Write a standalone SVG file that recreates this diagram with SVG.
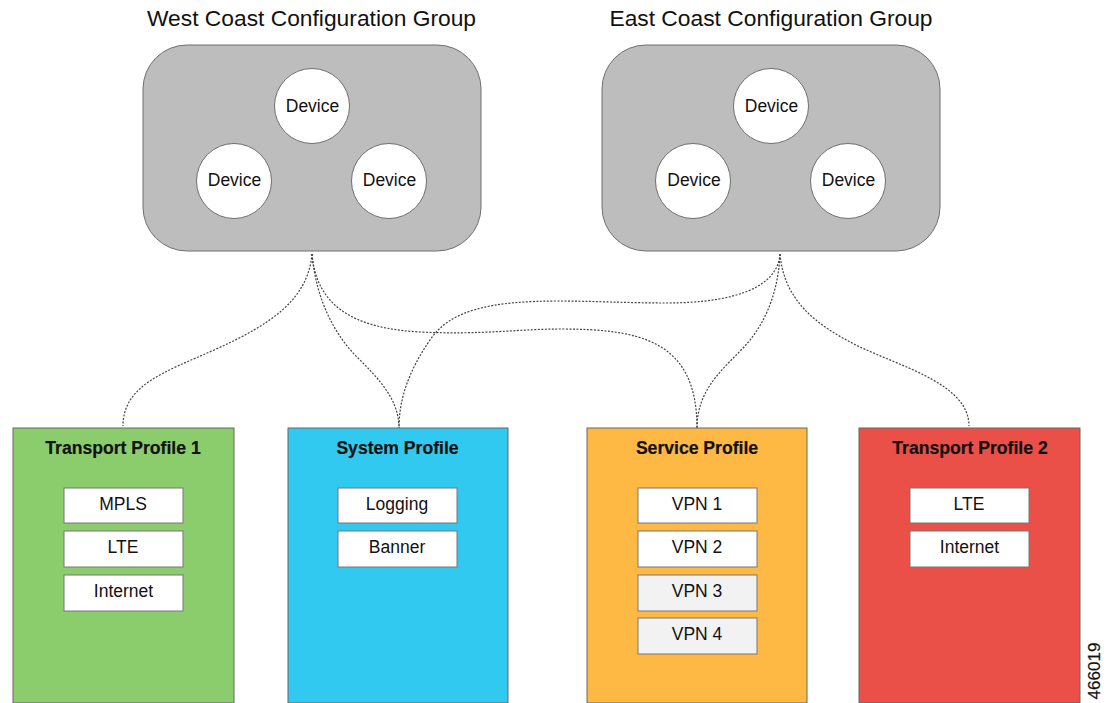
<svg xmlns="http://www.w3.org/2000/svg" width="1111" height="703" viewBox="0 0 1111 703">
<style>
text{font-family:"Liberation Sans",Arial,sans-serif;fill:#111;text-anchor:middle}
.t{font-size:22.8px}
.d{font-size:17.5px}
.h{font-size:17.6px;font-weight:bold;stroke:#111;stroke-width:.2px}
.g{fill:#bdbdbd;stroke:#6f6f6f;stroke-width:1}
.c{fill:#fff;stroke:#6f6f6f;stroke-width:1}
.p{stroke:#666;stroke-width:1}
.i{fill:#fff;stroke:#777;stroke-width:1}
.s{fill:#f2f2f2;stroke:#777;stroke-width:1}
.l{fill:none;stroke:#444;stroke-width:1.2;stroke-dasharray:2 1.5}
</style>
<rect width="1111" height="703" fill="#fff"/>
<g id="connectors">
<path class="l" d="M312 254C308 300 270 325 214 350C165 372 123 385 123 426"/>
<path class="l" d="M312 254C316 300 335 335 357 357C380 380 399 400 399 428"/>
<path class="l" d="M312 254C316 300 345 328 420 332C480 335 520 329 560 329C640 329 697 340 697 428"/>
<path class="l" d="M780 254C778 285 740 303 666 303C630 303 590 301 560 301C490 301 450 310 430 340C408 372 399 400 399 428"/>
<path class="l" d="M780 254C778 300 760 330 744 347C722 370 697 390 697 428"/>
<path class="l" d="M780 254C784 300 815 325 860 347C905 368 969 385 969 426"/>
</g>
<g id="west-group">
<text class="t" x="311.500" y="26">West Coast Configuration Group</text>
<rect class="g" x="143" y="45" width="338" height="206" rx="44"/>
</g>
<g id="west-device-1"><circle class="c" cx="312" cy="106" r="37.500"/><text class="d" x="312.500" y="111.500">Device</text></g>
<g id="west-device-2"><circle class="c" cx="234" cy="181" r="37.500"/><text class="d" x="234.500" y="185.500">Device</text></g>
<g id="west-device-3"><circle class="c" cx="389" cy="181" r="37.500"/><text class="d" x="389.500" y="185.500">Device</text></g>
<g id="east-group">
<text class="t" x="771" y="26">East Coast Configuration Group</text>
<rect class="g" x="602" y="45" width="338" height="206" rx="44"/>
</g>
<g id="east-device-1"><circle class="c" cx="771" cy="106" r="37.500"/><text class="d" x="771.500" y="111.500">Device</text></g>
<g id="east-device-2"><circle class="c" cx="693" cy="181" r="37.500"/><text class="d" x="694" y="185.500">Device</text></g>
<g id="east-device-3"><circle class="c" cx="848" cy="181" r="37.500"/><text class="d" x="848.500" y="185.500">Device</text></g>
<g id="transport-profile-1">
<rect class="p" x="13" y="428" width="221" height="275" fill="#8bcd6d"/>
<text class="h" x="123" y="454">Transport Profile 1</text>
<rect class="i" x="64" y="488" width="119" height="35"/><text class="d" x="123" y="510">MPLS</text>
<rect class="i" x="64" y="531" width="119" height="36"/><text class="d" x="123" y="553">LTE</text>
<rect class="i" x="64" y="575" width="119" height="36"/><text class="d" x="123.500" y="597">Internet</text>
</g>
<g id="system-profile">
<rect class="p" x="288" y="428" width="220" height="275" fill="#32c9f0"/>
<text class="h" x="397.500" y="454">System Profile</text>
<rect class="i" x="338" y="488" width="119" height="35"/><text class="d" x="397" y="510">Logging</text>
<rect class="i" x="338" y="531" width="119" height="36"/><text class="d" x="397" y="553">Banner</text>
</g>
<g id="service-profile">
<rect class="p" x="587" y="428" width="220" height="275" fill="#fdb944"/>
<text class="h" x="697" y="454">Service Profile</text>
<rect class="i" x="638" y="488" width="119" height="35"/><text class="d" x="697" y="510">VPN 1</text>
<rect class="i" x="638" y="531" width="119" height="36"/><text class="d" x="697" y="553">VPN 2</text>
<rect class="s" x="638" y="575" width="119" height="36"/><text class="d" x="697" y="597">VPN 3</text>
<rect class="s" x="638" y="618" width="119" height="36"/><text class="d" x="697" y="640">VPN 4</text>
</g>
<g id="transport-profile-2">
<rect class="p" x="859" y="428" width="221" height="275" fill="#ea4f48"/>
<text class="h" x="970" y="454">Transport Profile 2</text>
<rect class="i" x="910" y="488" width="119" height="35"/><text class="d" x="969" y="510">LTE</text>
<rect class="i" x="910" y="531" width="119" height="36"/><text class="d" x="969.500" y="553">Internet</text>
</g>
<text x="1100" y="671" font-size="17" transform="rotate(-90 1100 671)" style="stroke:#111;stroke-width:.2px">466019</text>
</svg>
